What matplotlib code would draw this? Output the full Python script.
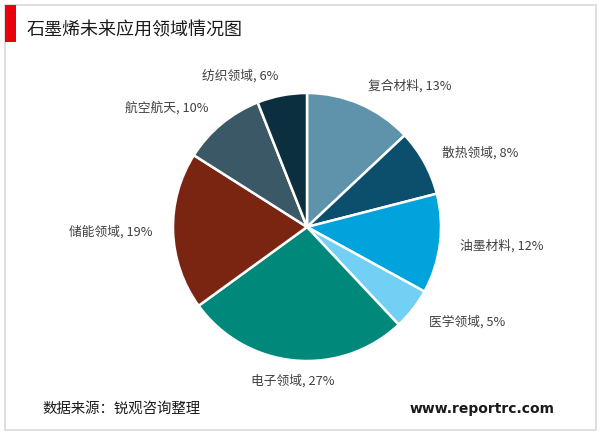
import matplotlib
matplotlib.use("Agg")
import matplotlib.pyplot as plt
import numpy as np
from matplotlib.patches import Rectangle

plt.rcParams['font.family'] = ['Noto Sans CJK SC', 'DejaVu Sans']

categories = ['复合材料', '散热领域', '油墨材料', '医学领域', '电子领域', '储能领域', '航空航天', '纺织领域']
values = [13, 8, 12, 5, 27, 19, 10, 6]
colors = ['#5E93AB', '#0B4F6C', '#00A3DB', '#72D0F4', '#00897B', '#7A2511', '#3B5866', '#0C2F40']
title = '石墨烯未来应用领域情况图'
source = '数据来源：锐观咨询整理'
website = 'www.reportrc.com'

W, H = 600, 433
fig = plt.figure(figsize=(W / 100, H / 100), dpi=100)
fig.patch.set_facecolor('white')

# border
fig.patches.append(Rectangle((5 / W, 3 / H), 591 / W, 425 / H, transform=fig.transFigure,
                             fill=False, edgecolor='#D9D9D9', linewidth=1.2))
# red bar
fig.patches.append(Rectangle((5 / W, (H - 42) / H), 11 / W, 37 / H, transform=fig.transFigure,
                             facecolor='#E8000B', edgecolor='none'))
fig.text(27 / W, (H - 30) / H, title, fontsize=13, va='center', ha='left', color='#1a1a1a')

cx, cy, r = 307, 227, 134
ax = fig.add_axes([(cx - r) / W, (H - cy - r) / H, 2 * r / W, 2 * r / H])
labels = [f'{c}, {v}%' for c, v in zip(categories, values)]
wedges, texts = ax.pie(values, colors=colors, startangle=90, counterclock=False,
                       labels=labels, labeldistance=1.15,
                       wedgeprops=dict(edgecolor='white', linewidth=1.8),
                       textprops=dict(fontsize=9.2, color='#404040'))
for w, t in zip(wedges, texts):
    ang = np.deg2rad((w.theta1 + w.theta2) / 2)
    c = np.cos(ang)
    if c > 0.15:
        t.set_ha('left')
    elif c < -0.15:
        t.set_ha('right')
    else:
        t.set_ha('center')
    t.set_va('center')
ax.set_aspect('equal')
ax.set_xlim(-1, 1)
ax.set_ylim(-1, 1)

fig.text(42 / W, (H - 409) / H, source, fontsize=10.4, va='center', ha='left', color='#1a1a1a')
fig.text(555 / W, (H - 409) / H, website, fontsize=10, va='center', ha='right',
         fontweight='bold', color='#1a1a1a', family='DejaVu Sans')

fig.savefig('out.png', dpi=100)
